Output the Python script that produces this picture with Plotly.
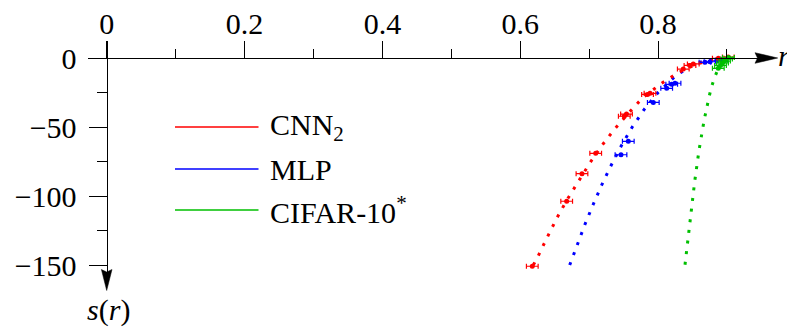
import plotly.graph_objects as go

# ---------------- data ----------------
# fitted curves (dotted)
cnn_fit_r = [0.619, 0.6262, 0.6399, 0.6538, 0.6686, 0.6849, 0.7017, 0.7191, 0.7380, 0.7578, 0.7782, 0.8043, 0.8297, 0.8565, 0.8826, 0.9015]
cnn_fit_s = [-150.0, -143.3, -129.2, -115.4, -102.2, -88.8, -75.6, -63.0, -50.9, -39.5, -28.6, -18.6, -10.5, -4.3, -1.1, 0.1]
mlp_fit_r = [0.6718, 0.6828, 0.6940, 0.7060, 0.7187, 0.7322, 0.7467, 0.7626, 0.7800, 0.8003, 0.8231, 0.8488, 0.8633, 0.8826, 0.9015]
mlp_fit_s = [-150.0, -135.3, -120.5, -106.0, -91.5, -77.5, -63.6, -50.0, -37.2, -24.9, -14.0, -5.1, -2.7, -0.7, 0.1]
cif_fit_r = [0.8391, 0.8424, 0.8474, 0.8532, 0.8594, 0.8671, 0.8735, 0.8768, 0.8816, 0.8874, 0.8942, 0.9015]
cif_fit_s = [-149.8, -134.8, -112.1, -89.3, -66.9, -44.4, -29.5, -22.2, -14.7, -7.5, -2.9, 0.1]

# measured points (with horizontal error bars)
cnn_r = [0.6175, 0.6674, 0.6896, 0.7095, 0.7510, 0.7542, 0.7847, 0.7883, 0.8366, 0.8463, 0.8511, 0.8874, 0.9019]
cnn_s = [-150.9, -103.8, -83.8, -69.1, -42.2, -40.6, -26.4, -25.6, -8.0, -5.4, -4.3, -0.2, 0.7]
mlp_r = [0.7462, 0.7568, 0.7931, 0.8125, 0.8198, 0.8246, 0.8681, 0.8754, 0.8851, 0.8923]
mlp_s = [-70.1, -60.4, -32.2, -22.0, -19.1, -18.3, -3.1, -2.7, -2.0, -1.4]
cif_r = [0.8874, 0.8906, 0.8935, 0.8964, 0.8993, 0.9022]
cif_s = [-7.5, -5.4, -3.6, -2.2, -0.7, 0.4]
r_err = 0.0085

series_names = ["CNN<sub>2</sub>", "MLP", "CIFAR-10<sup>*</sup>"]
series_colors = ["#ff0000", "#0000ff", "#00bf00"]

x_major = [0, 0.2, 0.4, 0.6, 0.8]
x_major_text = ["0", "0.2", "0.4", "0.6", "0.8"]
x_minor = [0.1, 0.3, 0.5, 0.7, 0.9]
y_major = [0, -50, -100, -150]
y_major_text = ["0", "\u221250", "\u2212100", "\u2212150"]
y_minor = [-25, -75, -125]

# ---------------- layout geometry ----------------
OFF = 8                          # page body margin of the html page
W, H = 795 - OFF, 331 - OFF
X0PX, XSCALE = 106.7, 689.2      # page pixel of r=0, px per unit r
Y0PX, YSCALE = 58.0, 1.38        # page pixel of s=0, px per unit s
FONT = "Liberation Serif, Times New Roman, DejaVu Serif, serif"


def px(x):
    return (x - OFF) / W


def py(y):
    return 1 - (y - OFF) / H


def r_at(xp):
    return (xp - X0PX) / XSCALE


def s_at(yp):
    return -(yp - Y0PX) / YSCALE


fig = go.Figure()

fits = [(mlp_fit_r, mlp_fit_s, 1), (cnn_fit_r, cnn_fit_s, 0), (cif_fit_r, cif_fit_s, 2)]
for rr, ss, i in fits:
    fig.add_trace(go.Scatter(x=rr, y=ss, mode="lines", showlegend=False,
                             line=dict(color=series_colors[i], width=3.0, dash="3px,7.7px")))

pts = [(mlp_r, mlp_s, 1), (cnn_r, cnn_s, 0), (cif_r, cif_s, 2)]
for rr, ss, i in pts:
    fig.add_trace(go.Scatter(x=rr, y=ss, mode="markers", showlegend=False, cliponaxis=False,
                             marker=dict(size=5, color=series_colors[i]),
                             error_x=dict(type="constant", value=r_err, thickness=1.2, width=2.5,
                                          color=series_colors[i])))

tickfont = dict(family=FONT, size=30, color="black")
fig.update_layout(
    width=W, height=H, margin=dict(l=0, r=0, t=0, b=0),
    paper_bgcolor="white", plot_bgcolor="white", showlegend=False,
    font=dict(family=FONT, color="black"),
    xaxis=dict(domain=[px(88), px(760)], range=[r_at(88), r_at(760)],
               anchor="free", position=py(Y0PX), side="top",
               showline=True, linecolor="black", linewidth=1.3,
               showgrid=False, zeroline=False, automargin=False,
               tickmode="array", tickvals=x_major, ticktext=x_major_text,
               ticks="outside", ticklen=17, tickwidth=1.3, tickcolor="black",
               tickfont=tickfont, ticklabelstandoff=-5,
               minor=dict(tickvals=x_minor, ticks="outside", ticklen=9, tickwidth=1.3,
                          tickcolor="black", showgrid=False)),
    yaxis=dict(domain=[py(272), py(41)], range=[s_at(272), s_at(41)],
               anchor="free", position=px(X0PX), side="left",
               showline=True, linecolor="black", linewidth=1.3,
               showgrid=False, zeroline=False, automargin=False,
               tickmode="array", tickvals=y_major, ticktext=y_major_text,
               ticks="outside", ticklen=18, tickwidth=1.3, tickcolor="black",
               tickfont=tickfont, ticklabelstandoff=6,
               minor=dict(tickvals=y_minor, ticks="outside", ticklen=10, tickwidth=1.3,
                          tickcolor="black", showgrid=False)),
)

# arrow heads
xa = f"M {px(777.7)},{py(58)} L {px(755)},{py(52.7)} L {px(757.5)},{py(58)} L {px(755)},{py(63.3)} Z"
ya = f"M {px(106.7)},{py(290.5)} L {px(101.4)},{py(269.5)} L {px(106.7)},{py(272)} L {px(112)},{py(269.5)} Z"
for p in (xa, ya):
    fig.add_shape(type="path", path=p, xref="paper", yref="paper",
                  fillcolor="black", line=dict(color="black", width=0.5))

# axis labels
fig.add_annotation(text="<i>r</i>", x=px(784), y=py(56), xref="paper", yref="paper",
                   showarrow=False, xanchor="center", yanchor="middle",
                   font=dict(family=FONT, size=30, color="black"))
fig.add_annotation(text="<i>s</i>(<i>r</i>)", x=px(108), y=py(310), xref="paper", yref="paper",
                   showarrow=False, xanchor="center", yanchor="middle",
                   font=dict(family=FONT, size=30, color="black"))

# legend
leg_y = [127, 169, 210]
for name, col, ly in zip(series_names, series_colors, leg_y):
    fig.add_shape(type="line", xref="paper", yref="paper", x0=px(175), x1=px(258.5),
                  y0=py(ly), y1=py(ly), line=dict(color=col, width=1.3))
    fig.add_annotation(text=name, x=px(268), y=py(ly), xref="paper", yref="paper",
                       showarrow=False, xanchor="left", yanchor="middle",
                       font=dict(family=FONT, size=30, color="black"))

fig.write_html("out.html")
